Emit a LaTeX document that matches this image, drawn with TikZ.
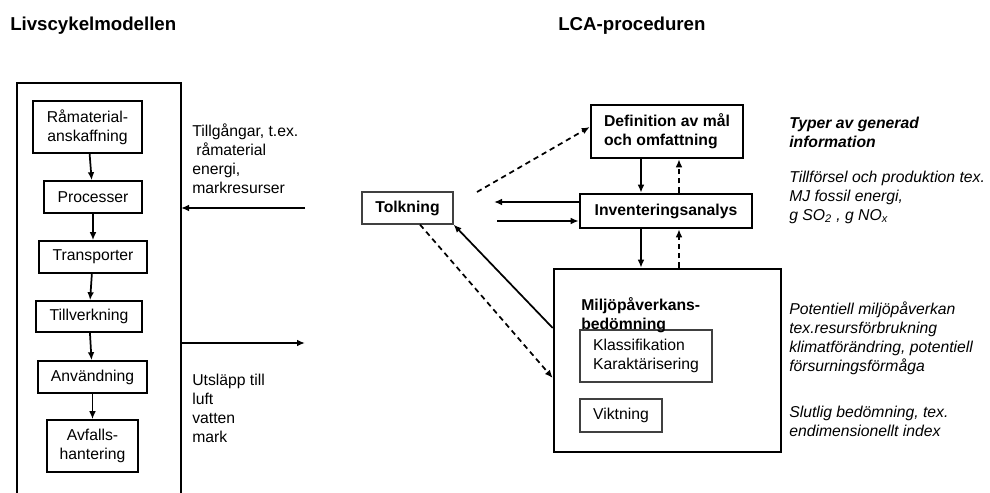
\documentclass[tikz,border=0pt]{standalone}
\usepackage{fontspec}
\setmainfont{Liberation Sans}
\usepackage{tikz}
\usetikzlibrary{arrows.meta}

\begin{document}
\begin{tikzpicture}[x=0.75pt,y=-0.75pt,
  font=\fontsize{11.8}{14.25}\selectfont,
  lbox/.style={draw,line width=1.2pt,align=center,inner sep=0pt},
  bbox/.style={draw,line width=1.9pt,align=left,inner sep=0pt,font=\fontsize{11.8}{14.25}\selectfont\bfseries},
  tbox/.style={draw=black!75,line width=0.9pt,align=left,inner sep=0pt},
  arr/.style={line width=1.3pt,-{Latex[length=6pt,width=5pt]}},
  darr/.style={line width=1.3pt,-{Latex[length=6pt,width=5pt]},dash pattern=on 4pt off 3pt},
  info/.style={anchor=west,align=left,inner sep=0pt,font=\fontsize{11.8}{14.25}\selectfont\itshape}]

\useasboundingbox (0,0) rectangle (990,493);

\node[anchor=west,inner sep=0pt,font=\fontsize{14}{16}\selectfont\bfseries] (titleL) at (10,26) {Livscykelmodellen};
\node[anchor=west,inner sep=0pt,font=\fontsize{14}{16}\selectfont\bfseries] (titleR) at (558,26) {LCA-proceduren};

% livscykeln
\draw[line width=2.2pt] (17,493) -- (17,83) -- (181,83) -- (181,493);

\node[lbox,minimum width=81.75pt,minimum height=39pt] (ram) at (87.5,127) {Råmaterial-\\anskaffning};
\node[lbox,minimum width=73.5pt,minimum height=24pt] (proc) at (93,197) {Processer};
\node[lbox,minimum width=81pt,minimum height=24pt] (trans) at (93,257) {Transporter};
\node[lbox,minimum width=79.5pt,minimum height=23.25pt] (tillv) at (89,316.5) {Tillverkning};
\node[lbox,minimum width=81.75pt,minimum height=24pt] (anv) at (92.5,377) {Användning};
\node[lbox,minimum width=68.25pt,minimum height=39pt] (avf) at (92.5,446) {Avfalls-\\hantering};

\draw[arr] (ram) -- (proc);
\draw[arr] (proc) -- (trans);
\draw[arr] (trans) -- (tillv);
\draw[arr] (tillv) -- (anv);
\draw[arr] (anv) -- (avf);

\coordinate (inEnd) at (181,208);
\coordinate (inStart) at (305,208);
\coordinate (outStart) at (181,343);
\coordinate (outEnd) at (305,343);
\draw[arr] (inStart) -- (inEnd);
\draw[arr] (outStart) -- (outEnd);

\node[anchor=west,align=left,inner sep=0pt] (inText) at (192,159)
  {Tillgångar, t.ex.\\\hspace*{3pt}råmaterial\\energi,\\markresurser};
\node[anchor=west,align=left,inner sep=0pt] (outText) at (192,408.5)
  {Utsläpp till\\luft\\vatten\\mark};

% LCA
\node[bbox,minimum width=114pt,minimum height=39.75pt] (def) at (667,131.5) {Definition av mål\\och omfattning};
\node[bbox,minimum width=129pt,minimum height=25.5pt] (inv) at (666,211) {Inventeringsanalys};
\node[tbox,minimum width=68.25pt,minimum height=24pt,font=\fontsize{11.8}{14.25}\selectfont\bfseries] (tolk) at (407.5,208) {Tolkning};
\node[bbox,minimum width=170.25pt,minimum height=137.25pt] (miljo) at (667.5,360.5) {};
\node[tbox,minimum width=99pt,minimum height=39pt] (klass) at (646,356) {Klassifikation\\Karaktärisering};
\node[tbox,minimum width=61.5pt,minimum height=24.75pt] (vikt) at (621,415.5) {Viktning};
\node[anchor=west,align=left,inner sep=0pt,font=\fontsize{11.8}{14.25}\selectfont\bfseries] (miljoText) at (581,315.5)
  {Miljöpåverkans-\\bedömning};

\draw[arr] (641,0 |- def.south) -- (641,0 |- inv.north);
\draw[darr] (679,0 |- inv.north) -- (679,0 |- def.south);
\draw[arr] (641,0 |- inv.south) -- (641,0 |- miljo.north);
\draw[darr] (679,0 |- miljo.north) -- (679,0 |- inv.south);

\coordinate (tolkOut) at (494,202);
\coordinate (tolkIn) at (497,221);
\coordinate (tolkDef) at (477,192);
\draw[arr] (inv.west |- tolkOut) -- (tolkOut);
\draw[arr] (tolkIn) -- (inv.west |- tolkIn);
\draw[darr] (tolkDef) -- (def.west |- 0,127);
\draw[darr] (tolk.south -| 420,0) -- (miljo.west |- 0,378);
\draw[arr] (miljo.west |- 0,328) -- (tolk.south east);

% information
\node[info,font=\fontsize{11.8}{14.25}\selectfont\bfseries\itshape] (infoA) at (789,132.5) {Typer av generad\\information};
\node[info] (infoB) at (789,197) {Tillförsel och produktion tex.\\MJ fossil energi,\\g SO\textsubscript{2} , g NO\textsubscript{x}};
\node[info] (infoC) at (789,338) {Potentiell miljöpåverkan\\tex.resursförbrukning\\klimatförändring, potentiell\\försurningsförmåga};
\node[info] (infoD) at (789,421) {Slutlig bedömning, tex.\\endimensionellt index};

\end{tikzpicture}
\end{document}
